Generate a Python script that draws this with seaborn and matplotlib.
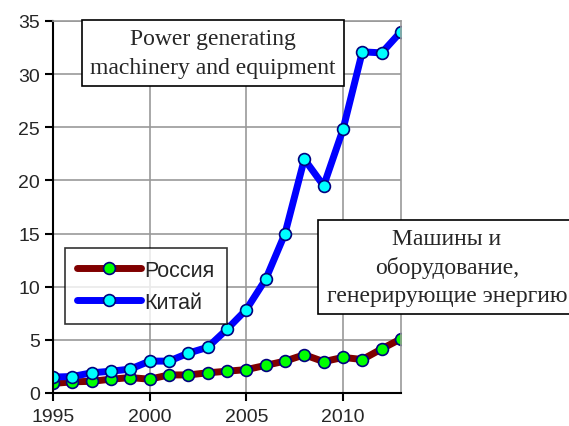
import matplotlib
matplotlib.use("Agg")
import matplotlib.pyplot as plt
import seaborn as sns
import pandas as pd

years = list(range(1995, 2014))
russia = [0.9, 1.05, 1.1, 1.3, 1.45, 1.3, 1.7, 1.7, 1.9, 2.05, 2.2, 2.6, 3.0,
          3.6, 2.95, 3.35, 3.15, 4.15, 5.1]
china = [1.5, 1.55, 1.9, 2.05, 2.25, 3.0, 3.0, 3.75, 4.3, 6.0, 7.85, 10.7, 15.0,
         22.0, 19.5, 24.8, 32.1, 32.0, 34.0]
labels = ["Россия", "Китай"]
title_en = "Power generating\nmachinery and equipment"
title_ru = "Машины и\nоборудование,\nгенерирующие энергию"

df = pd.DataFrame({"year": years, "Россия": russia, "Китай": china})

sns.set_style("white")
plt.rcParams["font.family"] = ["Liberation Sans", "DejaVu Sans"]

fig = plt.figure(figsize=(5.69, 4.27), dpi=100)
ax = fig.add_axes([53 / 569, 1 - 394 / 427, 348 / 569, 372 / 427])

sns.lineplot(data=df, x="year", y="Россия", ax=ax, color="#800000", lw=5,
             marker="o", markersize=8.5, markerfacecolor="#00ff00",
             markeredgecolor="#000080", markeredgewidth=1.2, label=labels[0])
sns.lineplot(data=df, x="year", y="Китай", ax=ax, color="#0000ff", lw=5,
             marker="o", markersize=8.5, markerfacecolor="#00ffff",
             markeredgecolor="#000080", markeredgewidth=1.2, label=labels[1])

ax.set_xlim(1995, 2013)
ax.set_ylim(0, 35)
ax.set_xticks([1995, 2000, 2005, 2010])
ax.set_yticks(range(0, 36, 5))
ax.set_xlabel("")
ax.set_ylabel("")
ax.grid(True, color="#999999", lw=1.2)
ax.set_axisbelow(True)
for s in ["top", "right"]:
    ax.spines[s].set_color("#999999")
    ax.spines[s].set_linewidth(1.2)
for s in ["left", "bottom"]:
    ax.spines[s].set_color("black")
    ax.spines[s].set_linewidth(1.5)
ax.tick_params(axis="both", labelsize=14, length=5.5, width=1.5,
               direction="out", color="black", left=True, bottom=True)
ax.tick_params(axis="y", pad=4)
ax.tick_params(axis="x", pad=5)

leg = ax.legend(loc="upper left", bbox_to_anchor=(12 / 348, 145 / 372),
                fontsize=15.5, frameon=True, fancybox=False, handlelength=3.0,
                borderpad=0.55, labelspacing=0.5, handletextpad=0.15,
                borderaxespad=0)
leg.get_frame().set_edgecolor("black")
leg.get_frame().set_linewidth(1.2)

box = dict(boxstyle="square,pad=0.35", fc="white", ec="black", lw=1.2)
fig.text(213 / 569, 1 - 54 / 427, title_en, ha="center", va="center",
         fontsize=17, family=["Liberation Serif", "DejaVu Serif"],
         linespacing=1.45, bbox=box)
fig.text(447 / 569, 1 - 268 / 427, title_ru, ha="center", va="center",
         fontsize=17, family=["Liberation Serif", "DejaVu Serif"],
         linespacing=1.4, bbox=box)

fig.savefig("out.png", dpi=100)
